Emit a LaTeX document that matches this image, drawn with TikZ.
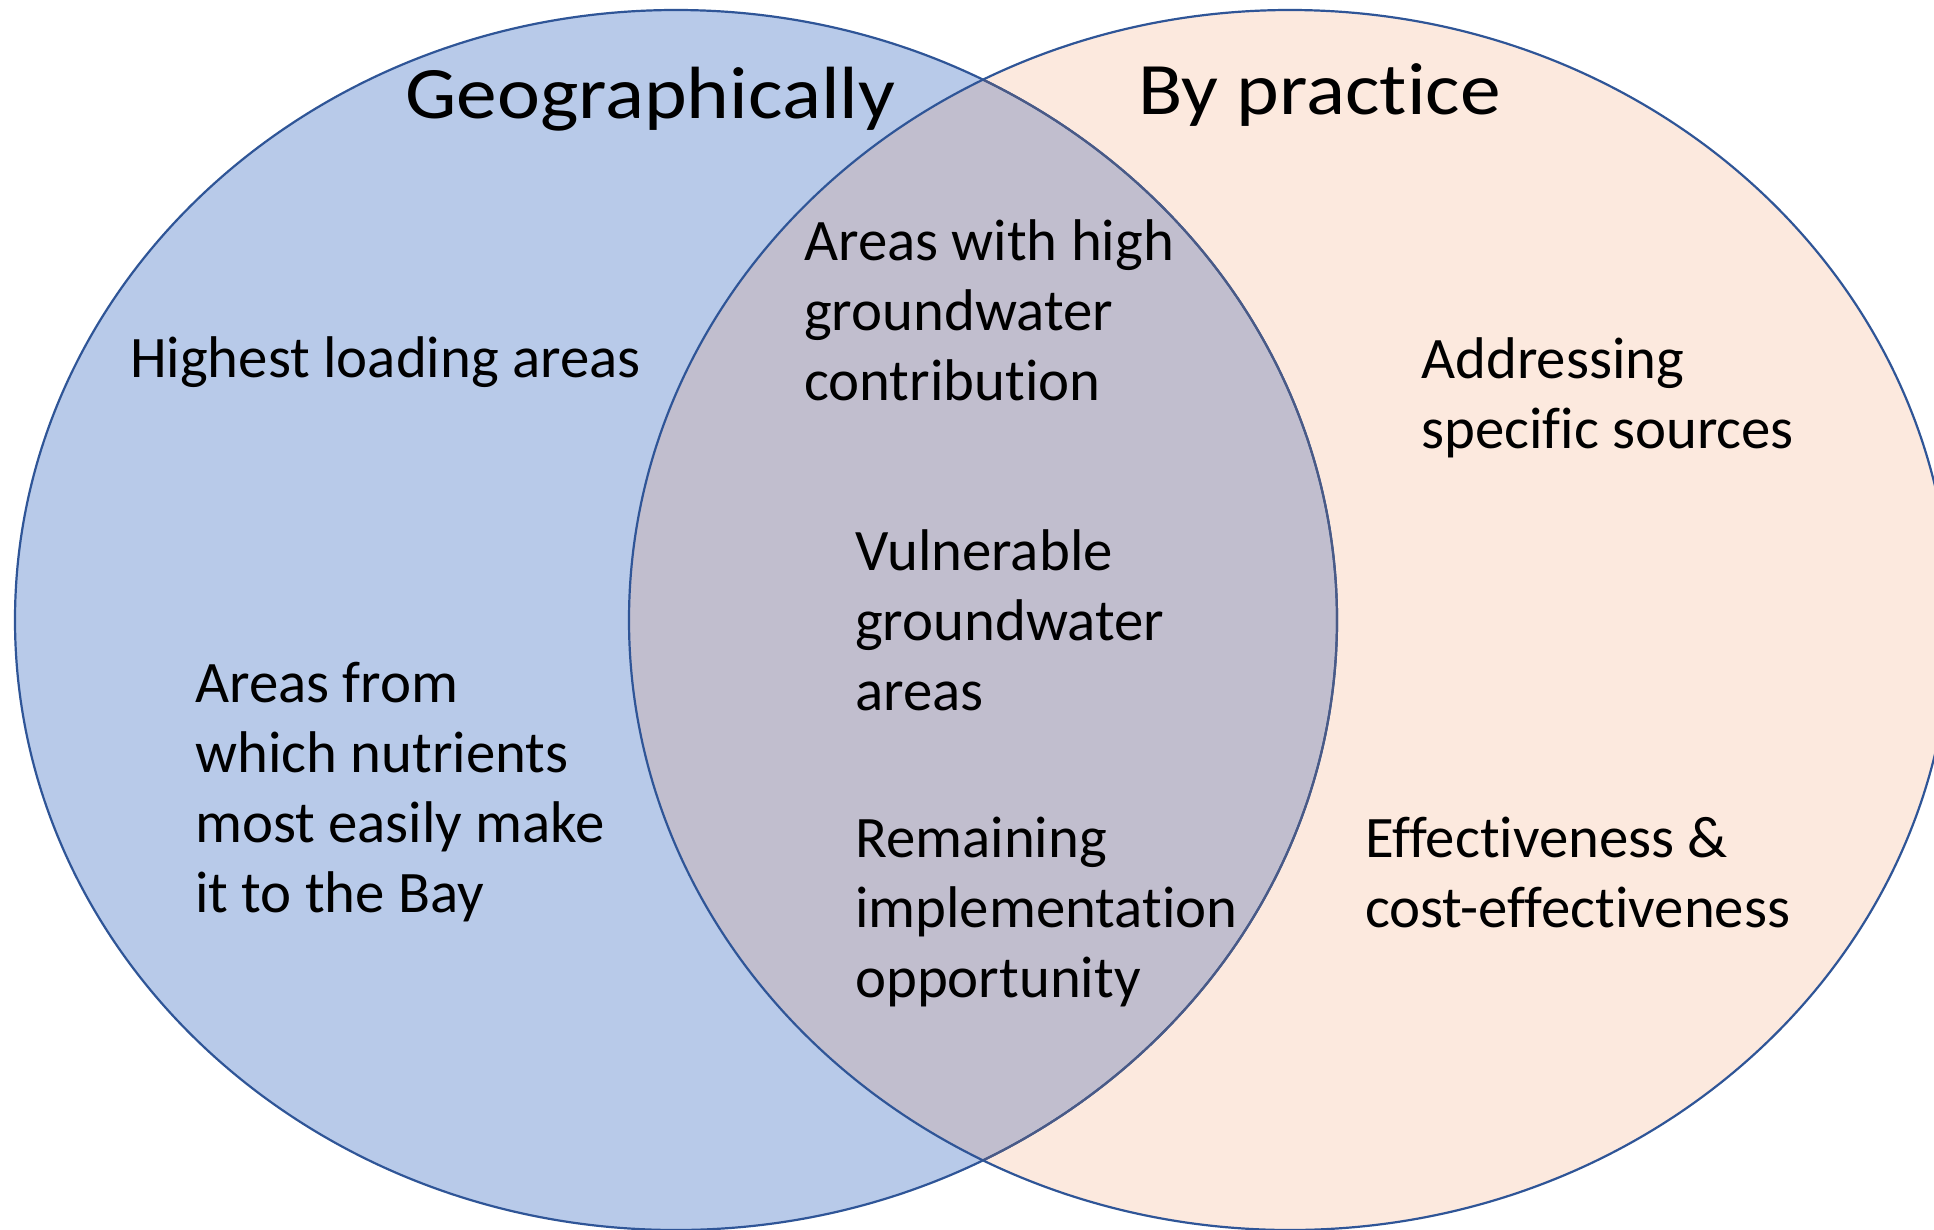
\documentclass[tikz,border=0pt]{standalone}
\usepackage{fontspec}
\setmainfont{Carlito}[Ligatures=NoCommon]
\newfontfamily\headfont{Carlito}[Ligatures=NoCommon, FakeStretch=1.1]
\begin{document}
\begin{tikzpicture}[x=1pt, y=-1pt,
  leftfill/.style={fill=geoblue},
  rightfill/.style={fill=practicepeach},
  outline/.style={draw=ringblue, line width=2.2pt},
  title/.style={anchor=base west, inner sep=0pt, font=\headfont\fontsize{74}{90}\selectfont},
  % multi-line labels are placed by the baseline of their last line
  body/.style={anchor=base west, inner sep=0pt, align=left, font=\fontsize{58.8}{70}\selectfont}
]
\definecolor{geoblue}{HTML}{B8CAE9}
\definecolor{practicepeach}{HTML}{FCE9DE}
\definecolor{overlapgrey}{HTML}{C1BECE}
\definecolor{ringblue}{HTML}{2F5597}
\definecolor{ringshade}{HTML}{4A5A86}

\useasboundingbox (0,0) rectangle (1934,1229);
\fill[white] (0,0) rectangle (1934,1229);

% the two sets
\path[leftfill]  (676,620) ellipse [x radius=661, y radius=610];
\path[rightfill] (1290,620) ellipse [x radius=661, y radius=610];
\begin{scope}
  \clip (676,620) ellipse [x radius=661, y radius=610];
  \fill[overlapgrey] (1290,620) ellipse [x radius=661, y radius=610];
\end{scope}

% outlines
\draw[outline] (676,620) ellipse [x radius=661, y radius=610];
\begin{scope}
  \clip (1290,620) ellipse [x radius=661, y radius=610];
  \draw[outline, draw=ringshade] (676,620) ellipse [x radius=661, y radius=610];
\end{scope}
\draw[outline] (1290,620) ellipse [x radius=661, y radius=610];

% headings
\node[title] (geo) at (405,118) {Geographically};
\node[title] (prac) at (1138,114) {By practice};

% left set
\node[body] (highest) at (130,377) {Highest loading areas};
\node[body] (easily) at (195,912) {Areas from\\which nutrients\\most easily make\\it to the Bay};

% overlap
\node[body] (gwhigh) at (804,400) {Areas with high\\groundwater\\contribution};
\node[body] (vuln) at (855,710) {Vulnerable\\groundwater\\areas};
\node[body] (remain) at (855,997) {Remaining\\implementation\\opportunity};

% right set
\node[body] (sources) at (1421,448) {Addressing\\specific sources};
\node[body] (effect) at (1365,927) {Effectiveness \&\\cost-effectiveness};
\end{tikzpicture}
\end{document}
